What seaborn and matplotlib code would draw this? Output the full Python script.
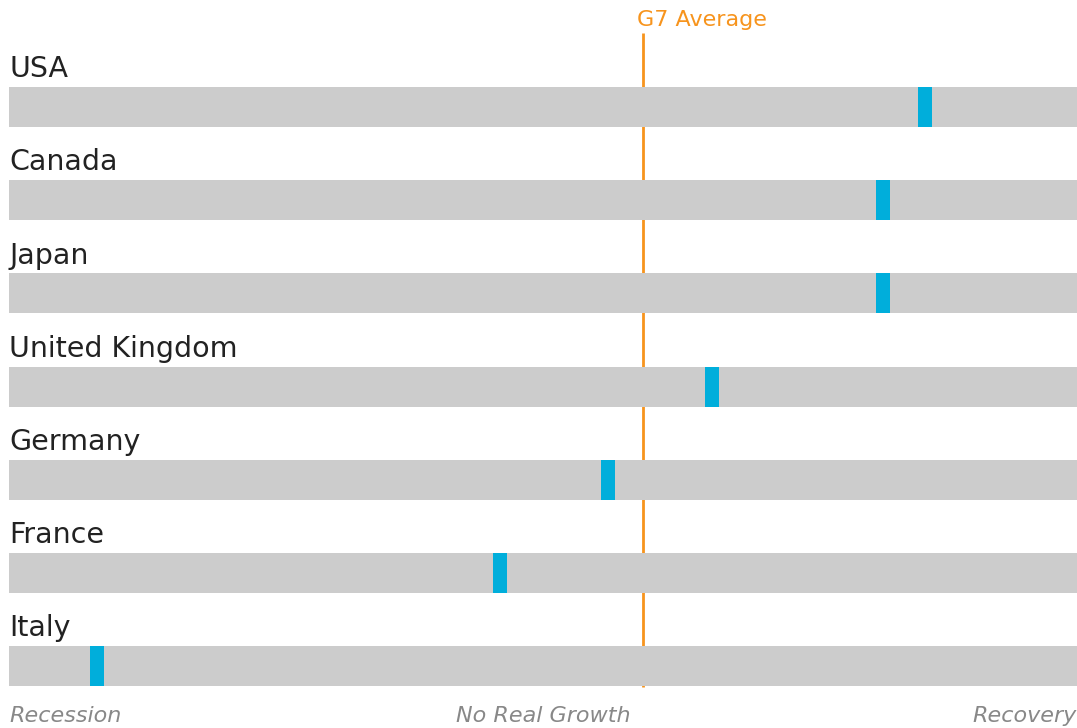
import matplotlib
matplotlib.use("Agg")
import matplotlib.pyplot as plt
import seaborn as sns
import pandas as pd
import numpy as np

countries = ["USA", "Canada", "Japan", "United Kingdom", "Germany", "France", "Italy"]
scores = [85.8, 81.8, 81.8, 65.8, 56.1, 46.0, 8.2]
g7_average = 59.4
scale_max = 100
axis_labels = ["Recession", "No Real Growth", "Recovery"]

sns.set_theme(style="white")
plt.rcParams['font.family'] = ['DejaVu Sans']

W, H = 1077, 728
fig = plt.figure(figsize=(W / 100, H / 100), dpi=100)
ax = fig.add_axes([9 / W, 0, 1068 / W, 1])

df = pd.DataFrame({"country": countries, "score": scores, "full": [scale_max] * len(countries)})
ypos = np.arange(len(countries))
row_px = 93.17
bar_h = 40 / row_px

# G7 average line (behind the bars)
top = -(107 - 33) / row_px
bottom = len(countries) - 1 + (687 - 666) / row_px
ax.plot([g7_average, g7_average], [top, bottom], color="#F7941D", lw=2, zorder=1, solid_capstyle="butt")

# background bars
ax.barh(ypos, df["full"], height=bar_h, color="#CCCCCC", linewidth=0, zorder=2)
# markers
mw = 1.31
ax.barh(ypos, [mw] * len(scores), left=np.array(scores) - mw / 2, height=bar_h,
        color="#00AEDB", linewidth=0, zorder=3)

for i, c in enumerate(countries):
    ax.text(0, i - 0.32, c, fontsize=20.5, color="#222222", ha="left", va="baseline", zorder=4)

ax.text(g7_average - 0.6, top - 0.075, "G7 Average", fontsize=16, color="#F7941D", ha="left", va="baseline")

ybl = len(countries) - 1 + (722 - 666) / row_px
for x, lab, ha in [(0, axis_labels[0], "left"), (scale_max / 2, axis_labels[1], "center"),
                   (scale_max, axis_labels[2], "right")]:
    ax.text(x, ybl, lab, fontsize=16, color="#888888", style="italic", ha=ha, va="baseline")

ax.set_xlim(0, scale_max)
ax.set_ylim((H - 107) / row_px, -107 / row_px)
ax.axis("off")

fig.savefig("out.png", dpi=100)
